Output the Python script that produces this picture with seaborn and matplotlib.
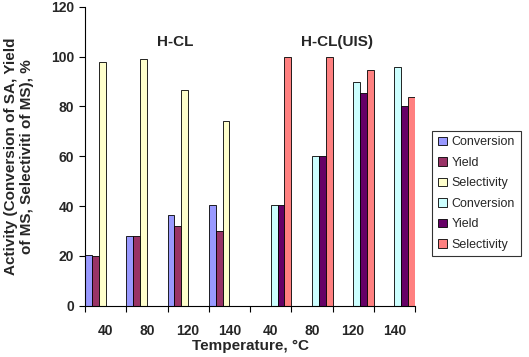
import pandas as pd
import matplotlib
matplotlib.use('Agg')
import matplotlib.pyplot as plt
import seaborn as sns

# Data
temps = ['40', '80', '120', '140']
hcl_conversion = [20.3, 28.0, 36.6, 40.4]
hcl_yield = [19.8, 28.0, 32.0, 29.8]
hcl_selectivity = [97.8, 99.0, 86.7, 74.3]
uis_conversion = [40.4, 60.2, 90.0, 95.7]
uis_yield = [40.4, 60.2, 85.4, 80.2]
uis_selectivity = [99.8, 99.8, 94.8, 83.6]

series = ['Conversion', 'Yield', 'Selectivity', 'Conversion ', 'Yield ', 'Selectivity ']
colors = ['#9999FF', '#993366', '#FFFFCC', '#CCFFFF', '#660066', '#FF8080']

# Build long table
rows = []
for i, t in enumerate(temps):
    cat = 'H-CL ' + t
    rows.append((cat, series[0], hcl_conversion[i]))
    rows.append((cat, series[1], hcl_yield[i]))
    rows.append((cat, series[2], hcl_selectivity[i]))
for i, t in enumerate(temps):
    cat = 'UIS ' + t
    rows.append((cat, series[3], uis_conversion[i]))
    rows.append((cat, series[4], uis_yield[i]))
    rows.append((cat, series[5], uis_selectivity[i]))
data = pd.DataFrame(rows, columns=['cat', 'series', 'value'])
order = ['H-CL ' + t for t in temps] + ['UIS ' + t for t in temps]

sns.set_style('white')
plt.rcParams['font.family'] = ['Liberation Sans', 'DejaVu Sans']

fig = plt.figure(figsize=(5.29, 3.57), dpi=100)
ax = fig.add_axes([0.1607, 0.1437, 0.6238, 0.8373])

sns.barplot(data=data, x='cat', y='value', hue='series', order=order,
            hue_order=series, palette=colors, width=1.0, gap=0,
            edgecolor='black', linewidth=0.6, saturation=1, ax=ax)

ax.set_ylim(0, 120)
ax.set_xlim(-0.5, 7.5)
ax.set_yticks(range(0, 121, 20))
ax.set_xticks(range(8))
ax.set_xticklabels(temps + temps, fontweight='bold', fontsize=10)
ax.set_xticks([x - 0.5 for x in range(9)], minor=True)
ax.tick_params(axis='x', which='major', length=0, pad=13)
ax.tick_params(axis='x', which='minor', length=4, width=0.8, color='black', direction='out', bottom=True)
ax.tick_params(axis='y', length=4, width=0.8, color='black', direction='out', left=True, pad=4)
for lab in ax.get_yticklabels():
    lab.set_fontweight('bold')
    lab.set_fontsize(10)

sns.despine(ax=ax)
for s in ['left', 'bottom']:
    ax.spines[s].set_color('black')
    ax.spines[s].set_linewidth(0.8)

ax.set_xlabel('Temperature, \u00b0C', fontweight='bold', fontsize=11, labelpad=1)
ax.set_ylabel('Activity (Conversion of SA, Yield\nof MS, Selectiviti of MS), %',
              fontweight='bold', fontsize=11, labelpad=12)

ax.text(1.68, 106, 'H-CL', ha='center', va='center', fontweight='bold', fontsize=11)
ax.text(5.62, 106, 'H-CL(UIS)', ha='center', va='center', fontweight='bold', fontsize=11)

handles, labels = ax.get_legend_handles_labels()
leg = ax.legend(handles, [s.strip() for s in labels], loc='center left',
                bbox_to_anchor=(1.033, 0.375), frameon=True, fancybox=False,
                edgecolor='black', fontsize=9, handlelength=0.7, handleheight=0.7,
                handletextpad=0.4, labelspacing=0.68, borderpad=0.45)
leg.get_frame().set_linewidth(0.8)

fig.savefig('out.png', dpi=100)
